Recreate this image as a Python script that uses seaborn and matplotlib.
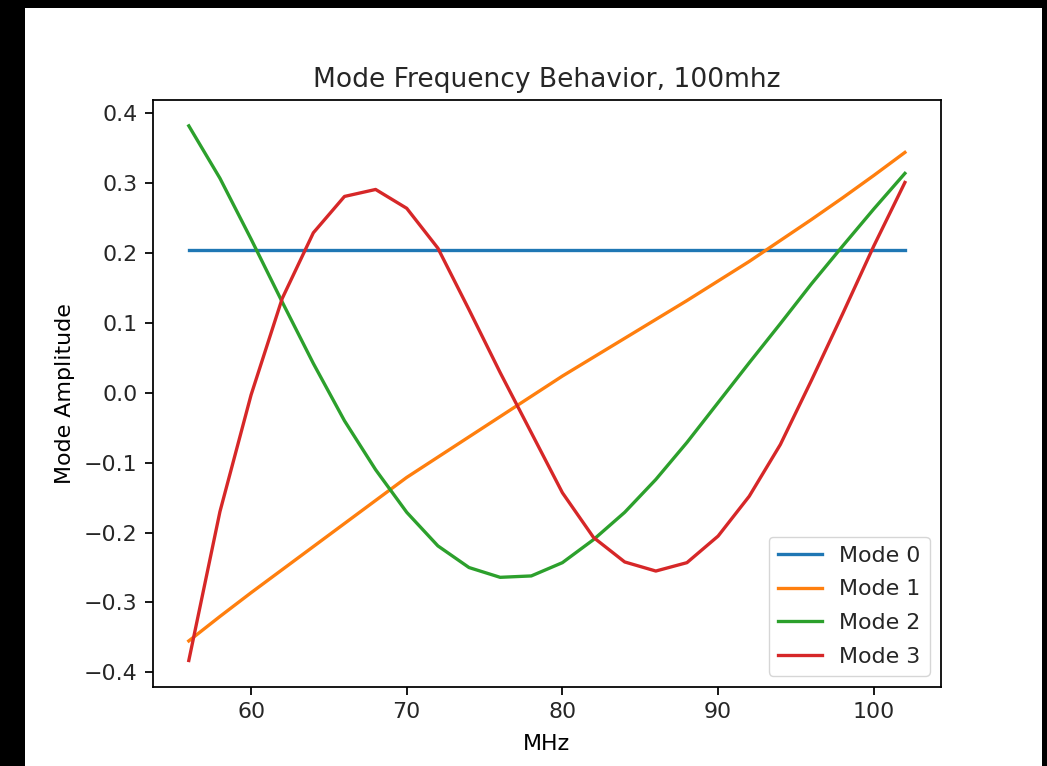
import matplotlib
matplotlib.use("Agg")
import matplotlib.pyplot as plt
import seaborn as sns
import pandas as pd
from matplotlib.patches import Rectangle

freq_mhz = [56, 58, 60, 62, 64, 66, 68, 70, 72, 74, 76, 78,
            80, 82, 84, 86, 88, 90, 92, 94, 96, 98, 100, 102]

mode0 = [0.2045] * 24
mode1 = [-0.355, -0.320, -0.286, -0.253, -0.220, -0.187, -0.154, -0.121,
         -0.092, -0.063, -0.034, -0.005, 0.024, 0.051, 0.078, 0.105,
         0.132, 0.160, 0.188, 0.218, 0.248, 0.279, 0.311, 0.344]
mode2 = [0.382, 0.307, 0.220, 0.130, 0.042, -0.040, -0.110, -0.171,
         -0.219, -0.250, -0.264, -0.262, -0.243, -0.210, -0.171, -0.124,
         -0.071, -0.014, 0.043, 0.099, 0.156, 0.210, 0.263, 0.314]
mode3 = [-0.383, -0.170, -0.003, 0.135, 0.229, 0.281, 0.291, 0.264,
         0.207, 0.119, 0.029, -0.057, -0.143, -0.207, -0.242, -0.255,
         -0.243, -0.205, -0.148, -0.074, 0.018, 0.113, 0.210, 0.301]

mode_names = ["Mode 0", "Mode 1", "Mode 2", "Mode 3"]
series = [mode0, mode1, mode2, mode3]

rows = []
for name, vals in zip(mode_names, series):
    for f, v in zip(freq_mhz, vals):
        rows.append({"MHz": f, "Amplitude": v, "Mode": name})
df = pd.DataFrame(rows)

S = 1.59
plt.rcParams.update({
    "font.family": ["DejaVu Sans"],
    "font.size": 10 * S,
    "axes.linewidth": 0.8 * S,
    "xtick.major.width": 0.8 * S,
    "ytick.major.width": 0.8 * S,
    "xtick.major.size": 3.5 * S,
    "ytick.major.size": 3.5 * S,
    "xtick.major.pad": 3.5 * S,
    "ytick.major.pad": 3.5 * S,
    "axes.edgecolor": "black",
    "text.color": "#262626",
    "xtick.color": "black",
    "ytick.color": "black",
    "xtick.labelcolor": "#262626",
    "ytick.labelcolor": "#262626",
})

W, H = 1047, 766
fig = plt.figure(figsize=(W / 100, H / 100), dpi=100, facecolor="black")
fig.patches.append(Rectangle((25 / W, 0), (1042 - 25) / W, (766 - 8) / H,
                             transform=fig.transFigure, facecolor="white",
                             edgecolor="none", zorder=-10))

left, right = 153 / W, 940.7 / W
bottom, top = 1 - 686.7 / H, 1 - 100 / H
ax = fig.add_axes([left, bottom, right - left, top - bottom])
ax.set_zorder(1)

palette = ["#1f77b4", "#ff7f0e", "#2ca02c", "#d62728"]
sns.lineplot(data=df, x="MHz", y="Amplitude", hue="Mode", palette=palette,
             linewidth=1.5 * S, ax=ax, estimator=None, sort=False)

ax.set_title("Mode Frequency Behavior, 100mhz", fontsize=12 * S, pad=6 * S)
ax.set_xlabel("MHz", fontsize=10 * S, labelpad=5.5 * S)
ax.set_ylabel("Mode Amplitude", fontsize=10 * S, labelpad=4 * S)
ax.set_xticks([60, 70, 80, 90, 100])
ax.set_yticks([-0.4, -0.3, -0.2, -0.1, 0.0, 0.1, 0.2, 0.3, 0.4])
ax.set_xlim(53.7, 104.3)
ax.set_ylim(-0.4205, 0.419)

handles, labels = ax.get_legend_handles_labels()
ax.legend(handles, labels, loc="lower right", fontsize=10 * S, frameon=True,
          borderaxespad=0.5, handlelength=2.0, labelspacing=0.62)

fig.savefig("out.png", dpi=100, facecolor=fig.get_facecolor())
